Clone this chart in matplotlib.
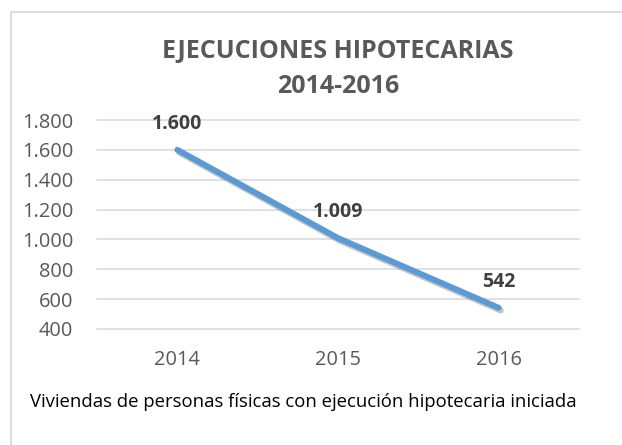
import matplotlib
matplotlib.use("Agg")
import matplotlib.pyplot as plt
import matplotlib.patheffects as pe
from matplotlib.lines import Line2D

years = ["2014", "2015", "2016"]
values = [1600, 1009, 542]
value_labels = ["1.600", "1.009", "542"]
yticks = [400, 600, 800, 1000, 1200, 1400, 1600, 1800]
ytick_labels = ["400", "600", "800", "1.000", "1.200", "1.400", "1.600", "1.800"]
title_lines = ["EJECUCIONES HIPOTECARIAS", "2014-2016"]
caption_text = "Viviendas de personas físicas con ejecución hipotecaria iniciada"

W, H = 622, 445
fig = plt.figure(figsize=(W / 100, H / 100), dpi=100)
fig.patch.set_facecolor("white")

FONT = "Open Sans"

ax = fig.add_axes([97 / W, 1 - 329 / H, (579 - 97) / W, (329 - 120) / H])
x = list(range(len(years)))
ax.plot(x, values, color="#5B9BD5", lw=4.3, solid_capstyle="round", solid_joinstyle="round",
        path_effects=[pe.SimpleLineShadow(offset=(1.5, -2.0), shadow_color="#7f7f7f", alpha=0.45),
                      pe.Normal()], zorder=3)
ax.set_xlim(-0.5, len(years) - 0.5)
ax.set_ylim(yticks[0], yticks[-1])
ax.set_yticks(yticks)
ax.set_yticklabels(ytick_labels)
ax.set_xticks(x)
ax.set_xticklabels(years)
for s in ax.spines.values():
    s.set_visible(False)
ax.tick_params(axis="both", length=0, labelcolor="#595959", labelsize=14.4)
ax.tick_params(axis="y", pad=17)
ax.tick_params(axis="x", pad=15)
for lab in ax.get_xticklabels() + ax.get_yticklabels():
    lab.set_fontfamily(FONT)
ax.grid(axis="y", color="#D9D9D9", lw=1.1)
ax.set_axisbelow(True)
for gl in ax.get_ygridlines():
    gl.set_clip_on(False)

for xi, v, lab in zip(x, values, value_labels):
    ax.annotate(lab, (xi, v), xytext=(0, 18.7), textcoords="offset points",
                ha="center", va="center", fontsize=14, fontweight="bold",
                color="#404040", family=FONT, zorder=4)

title_baselines = [58, 93]
for line, yb in zip(title_lines, title_baselines):
    fig.text(338 / W, 1 - yb / H, line, ha="center", va="baseline", fontsize=18,
             fontweight="bold", color="#595959", family=FONT)

fig.text(30 / W, 1 - 407 / H, caption_text, ha="left", va="baseline", fontsize=13.3,
         color="#000000", family=FONT)

# chart border (top and left edges visible)
fig.add_artist(Line2D([11 / W, 1.0], [1 - 12 / H, 1 - 12 / H], color="#D9D9D9", lw=1.3,
                      transform=fig.transFigure))
fig.add_artist(Line2D([11 / W, 11 / W], [0, 1 - 12 / H], color="#D9D9D9", lw=1.3,
                      transform=fig.transFigure))

fig.savefig("out.png", dpi=100, facecolor="white")
